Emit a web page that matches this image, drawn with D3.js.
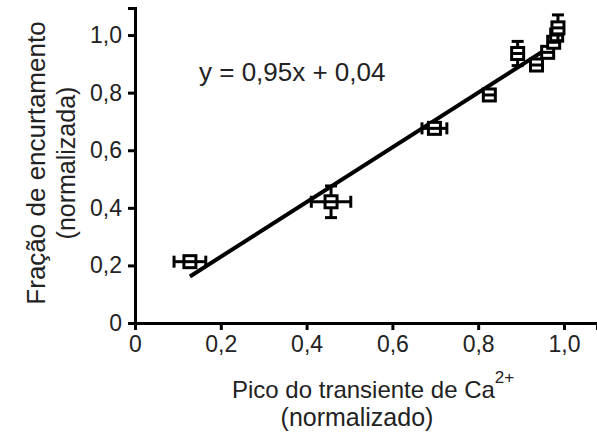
<!DOCTYPE html>
<html><head><meta charset="utf-8">
<script src="https://cdn.jsdelivr.net/npm/d3@7"></script>
<style>body{margin:0;background:#fff}svg{display:block}text{font-family:"Liberation Sans",Arial,sans-serif;fill:#222}</style>
</head><body><svg id="c" width="597" height="438"></svg>
<script>
const xVals = [0.128, 0.457, 0.698, 0.826, 0.892, 0.936, 0.962, 0.976, 0.983, 0.986];
const yVals = [0.213, 0.421, 0.676, 0.792, 0.936, 0.896, 0.940, 0.975, 1.000, 1.025];
const xErr  = [0.037, 0.046, 0.029, 0.012, 0.008, 0.010, 0.008, 0.006, 0.006, 0.006];
const yErr  = [0.012, 0.055, 0.010, 0.012, 0.042, 0.012, 0.012, 0.012, 0.012, 0.045];
const xTicks = [0, 0.2, 0.4, 0.6, 0.8, 1.0];
const yTicks = [0, 0.2, 0.4, 0.6, 0.8, 1.0];
const slope = 0.95, intercept = 0.04;

const svg = d3.select("#c");
const x = d3.scaleLinear().domain([0, 1.077]).range([135, 597]);
const y = d3.scaleLinear().domain([0, 1.094]).range([323, 8]);
const fmt = d => d === 0 ? "0" : d3.format(".1f")(d).replace(".", ",");

const gx = svg.append("g").attr("transform", "translate(0,323)")
  .call(d3.axisBottom(x).tickValues(xTicks).tickFormat(fmt).tickSizeOuter(0).tickSize(7).tickPadding(6));
const gy = svg.append("g").attr("transform", "translate(135,0)")
  .call(d3.axisLeft(y).tickValues(yTicks).tickFormat(fmt).tickSizeOuter(0).tickSize(7).tickPadding(6));
[gx, gy].forEach(g => {
  g.select(".domain").attr("stroke", "#000").attr("stroke-width", 3);
  g.selectAll(".tick line").attr("stroke", "#000").attr("stroke-width", 3);
  g.selectAll(".tick text").attr("font-size", 23).attr("fill", "#222")
    .attr("font-family", '"Liberation Sans",Arial,sans-serif');
});

// regression line
const x0 = d3.min(xVals), x1 = d3.max(xVals);
svg.append("line")
  .attr("x1", x(x0)).attr("y1", y(slope * x0 + intercept))
  .attr("x2", x(x1)).attr("y2", y(slope * x1 + intercept))
  .attr("stroke", "#000").attr("stroke-width", 4);

const pts = xVals.map((v, i) => ({x: v, y: yVals[i], ex: xErr[i], ey: yErr[i]}));
const half = 6, cap = 6;
const g = svg.append("g").attr("stroke", "#000").attr("stroke-width", 3).attr("fill", "none");
pts.forEach(p => {
  const cx = x(p.x), cy = y(p.y);
  const xl = x(p.x - p.ex), xr = x(p.x + p.ex);
  const yt = y(p.y + p.ey), yb = y(p.y - p.ey);
  if (yt < cy - half) {
    g.append("line").attr("x1", cx).attr("x2", cx).attr("y1", yt).attr("y2", cy - half);
    g.append("line").attr("x1", cx - cap).attr("x2", cx + cap).attr("y1", yt).attr("y2", yt);
  }
  if (yb > cy + half) {
    g.append("line").attr("x1", cx).attr("x2", cx).attr("y1", cy + half).attr("y2", yb);
    g.append("line").attr("x1", cx - cap).attr("x2", cx + cap).attr("y1", yb).attr("y2", yb);
  }
  g.append("rect").attr("x", cx - half).attr("y", cy - half).attr("width", 2 * half).attr("height", 2 * half)
    .attr("fill", "#fff");
  g.append("line").attr("x1", Math.min(xl, cx - half)).attr("x2", Math.max(xr, cx + half)).attr("y1", cy).attr("y2", cy);
  if (xl < cx - half) g.append("line").attr("x1", xl).attr("x2", xl).attr("y1", cy - cap).attr("y2", cy + cap);
  if (xr > cx + half) g.append("line").attr("x1", xr).attr("x2", xr).attr("y1", cy - cap).attr("y2", cy + cap);
});

svg.append("text").attr("x", 199).attr("y", 81).attr("font-size", 26).text("y = 0,95x + 0,04");

const xt = svg.append("text").attr("x", 232).attr("y", 398).attr("font-size", 24);
xt.append("tspan").text("Pico do transiente de Ca");
xt.append("tspan").attr("font-size", 17).attr("dy", -15).text("2+");
svg.append("text").attr("x", 357).attr("y", 426).attr("text-anchor", "middle").attr("font-size", 25).text("(normalizado)");

svg.append("text").attr("transform", "translate(45,163) rotate(-90)").attr("text-anchor", "middle").attr("font-size", 26).text("Fração de encurtamento");
svg.append("text").attr("transform", "translate(75,163) rotate(-90)").attr("text-anchor", "middle").attr("font-size", 25).text("(normalizada)");
</script></body></html>
